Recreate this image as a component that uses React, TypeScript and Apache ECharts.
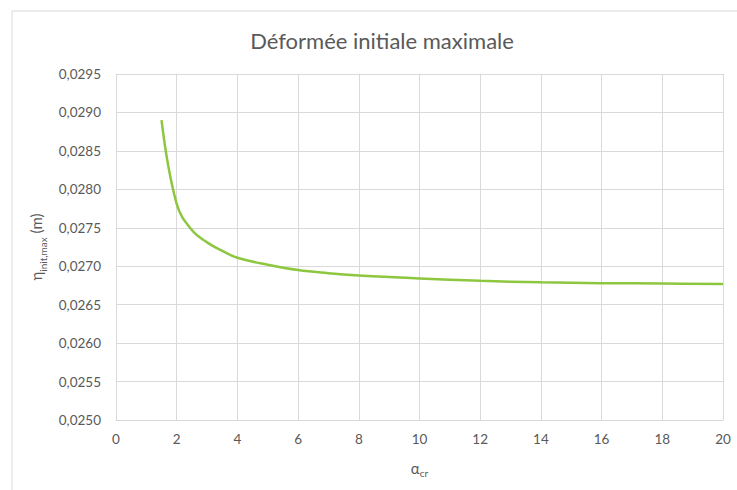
import React, { useEffect, useRef } from "react";
import * as echarts from "echarts";

const titleText = "Déformée initiale maximale";
const alphaCr = [1.5, 2, 2.5, 3, 3.5, 4, 5, 6, 7, 8, 9, 10, 12, 14, 16, 18, 20];
const etaInitMax = [
  0.0289, 0.02781, 0.02747, 0.02731, 0.0272, 0.02711, 0.02702, 0.02695, 0.02691,
  0.02688, 0.02686, 0.02684, 0.02681, 0.02679, 0.02678, 0.026775, 0.02677,
];
const xTicks = { min: 0, max: 20, interval: 2 };
const yTicks = { min: 0.025, max: 0.0295, interval: 0.0005 };

const FONT = "Lato";
const TXT = "#595959";
const GRID = "#d9d9d9";

export default function App() {
  const ref = useRef<HTMLDivElement>(null);
  useEffect(() => {
    document.body.style.margin = "0";
    const chart = echarts.init(ref.current!, null, { renderer: "svg" });
    chart.setOption({
      animation: false,
      backgroundColor: "#ffffff",
      textStyle: { fontFamily: FONT },
      title: {
        text: titleText,
        left: 382,
        top: 29,
        padding: 0,
        textAlign: "center",
        textStyle: { fontFamily: FONT, fontSize: 22, fontWeight: "normal", color: TXT },
      },
      graphic: [
        {
          type: "rect",
          shape: { x: 12, y: 11, width: 760, height: 520 },
          style: { fill: "none", stroke: GRID, lineWidth: 1 },
          silent: true,
        },
      ],
      grid: { left: 116, right: 14, top: 74, bottom: 70 },
      xAxis: {
        type: "value",
        min: xTicks.min,
        max: xTicks.max,
        interval: xTicks.interval,
        name: "{a|α}{s|cr}",
        nameLocation: "middle",
        nameGap: 40,
        nameTextStyle: {
          rich: {
            a: { fontFamily: FONT, fontSize: 15, color: TXT, verticalAlign: "bottom" },
            s: { fontFamily: FONT, fontSize: 10, color: TXT, verticalAlign: "bottom", padding: [0, 0, -3, 0] },
          },
        },
        axisLine: { show: true, lineStyle: { color: GRID, width: 1 } },
        axisTick: { show: false },
        splitLine: { show: true, lineStyle: { color: GRID, width: 1 } },
        axisLabel: { color: TXT, fontFamily: FONT, fontSize: 13.5, margin: 12 },
      },
      yAxis: {
        type: "value",
        min: yTicks.min,
        max: yTicks.max,
        interval: yTicks.interval,
        name: "{a|η}{s|init,max}{a| (m)}",
        nameLocation: "middle",
        nameGap: 62,
        nameRotate: 90,
        nameTextStyle: {
          rich: {
            a: { fontFamily: FONT, fontSize: 15, color: TXT, verticalAlign: "bottom" },
            s: { fontFamily: FONT, fontSize: 10, color: TXT, verticalAlign: "bottom", padding: [0, 0, -4, 0] },
          },
        },
        axisLine: { show: true, lineStyle: { color: GRID, width: 1 } },
        axisTick: { show: false },
        splitLine: { show: true, lineStyle: { color: GRID, width: 1 } },
        axisLabel: {
          color: TXT,
          fontFamily: FONT,
          fontSize: 13.5,
          margin: 15,
          formatter: (v: number) => v.toFixed(4).replace(".", ","),
        },
      },
      series: [
        {
          type: "line",
          data: alphaCr.map((a, i) => [a, etaInitMax[i]]),
          smooth: 0.4,
          showSymbol: false,
          symbol: "none",
          lineStyle: { color: "#8DC63F", width: 2.5 },
          itemStyle: { color: "#8DC63F" },
        },
      ],
    });
    return () => chart.dispose();
  }, []);
  return <div ref={ref} style={{ width: 737, height: 490 }} />;
}
